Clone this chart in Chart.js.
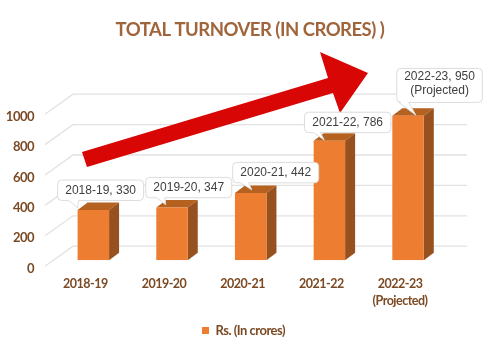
<!DOCTYPE html>
<html>
<head>
<meta charset="utf-8">
<title>Total turnover</title>
<script src="https://cdn.jsdelivr.net/npm/chart.js@4"></script>
<style>
  html, body { margin: 0; padding: 0; background: #fff; }
  #chart { display: block; filter: blur(0.35px); }
</style>
</head>
<body>
<canvas id="chart" width="502" height="353"></canvas>
<script>
const categories = ['2018-19', '2019-20', '2020-21', '2021-22', ['2022-23', '(Projected)']];
const turnover = [330, 347, 442, 786, 950];
const seriesName = 'Rs. (In crores)';
const chartTitle = 'TOTAL TURNOVER (IN CRORES) )';
const yTicks = [0, 200, 400, 600, 800, 1000];

const brown = '#7b4a24';
const depthX = 10;
const depthY = 7.5;

// callout box placement, relative to the top centre of each bar
const callouts = [
  { dx: -35.7, gap: 9.6, w: 86, base: [11, 21], tip: [-15.7, -2] },
  { dx: -26.3, gap: 9.7, w: 86, base: [11, 19], tip: [-6.3, -2.7] },
  { dx: -18, gap: 10.2, w: 86, base: [8, 16], tip: [1, -3.2] },
  { dx: -24.9, gap: 8.1, w: 86.4, base: [9, 16], tip: [-5.2, -0.8] },
  { dx: -11.3, gap: 13.4, w: 85.6, base: [2, 12], tip: [7.7, -0.7] },
];

// the big red trend arrow, canvas pixels
const arrowShape = [[82, 152], [328, 78], [320, 52], [368, 73], [340, 113], [333, 93], [87, 167]];

function polygon(ctx, points, fill) {
  ctx.beginPath();
  points.forEach(([x, y], i) => (i ? ctx.lineTo(x, y) : ctx.moveTo(x, y)));
  ctx.closePath();
  ctx.fillStyle = fill;
  ctx.fill();
}

// the labels in the original are set tighter than Lato
const trackingPlugin = {
  id: 'tracking',
  beforeUpdate(chart) { chart.ctx.letterSpacing = '-0.5px'; },
  beforeDraw(chart) { chart.ctx.letterSpacing = '-0.5px'; },
};

// title and legend sit off the plot centre in the original
const nudgePlugin = {
  id: 'nudge',
  afterLayout(chart) {
    chart.titleBlock.left += 26.3;
    chart.titleBlock.right += 26.3;
    chart.legend.left += 19.8;
    chart.legend.right += 19.8;
  },
};

const wallPlugin = {
  id: 'wall',
  beforeDatasetsDraw(chart) {
    const { ctx } = chart;
    const yScale = chart.scales.y;
    ctx.save();
    ctx.lineWidth = 1.3;
    ctx.strokeStyle = '#e2e2e2';
    yTicks.forEach(value => {
      const backY = yScale.getPixelForValue(value) - 14;
      ctx.beginPath();
      ctx.moveTo(45, backY + 20);
      ctx.lineTo(73, backY);
      ctx.lineTo(467, backY);
      ctx.stroke();
    });
    // top and side faces of the bars
    chart.getDatasetMeta(0).data.forEach(bar => {
      const left = bar.x - bar.width / 2;
      const right = bar.x + bar.width / 2;
      polygon(ctx, [[left, bar.y], [left + depthX, bar.y - depthY], [right + depthX, bar.y - depthY], [right, bar.y]], '#b5611f');
      polygon(ctx, [[right, bar.y], [right + depthX, bar.y - depthY], [right + depthX, bar.base - depthY], [right, bar.base]], '#97511f');
    });
    ctx.restore();
  },
};

const calloutPlugin = {
  id: 'callouts',
  afterDatasetsDraw(chart) {
    const { ctx } = chart;
    ctx.save();
    polygon(ctx, arrowShape, '#d90606');
    ctx.letterSpacing = '0px';

    chart.getDatasetMeta(0).data.forEach((bar, i) => {
      const spec = callouts[i];
      const category = categories[i];
      const lines = Array.isArray(category)
        ? [`${category[0]}, ${turnover[i]}`, category[1]]
        : [`${category}, ${turnover[i]}`];
      const h = lines.length > 1 ? 34 : 20.4;
      const x = bar.x + spec.dx;
      const bottom = bar.y - spec.gap;
      const y = bottom - h;
      const r = 4;

      ctx.beginPath();
      ctx.moveTo(x + r, y);
      ctx.arcTo(x + spec.w, y, x + spec.w, bottom, r);
      ctx.arcTo(x + spec.w, bottom, x, bottom, r);
      ctx.lineTo(x + spec.base[1], bottom);
      ctx.lineTo(bar.x + spec.tip[0], bar.y + spec.tip[1]);
      ctx.lineTo(x + spec.base[0], bottom);
      ctx.arcTo(x, bottom, x, y, r);
      ctx.arcTo(x, y, x + spec.w, y, r);
      ctx.closePath();
      ctx.fillStyle = '#fff';
      ctx.fill();
      ctx.lineWidth = 1;
      ctx.strokeStyle = '#dcdcdc';
      ctx.stroke();

      ctx.fillStyle = '#404040';
      ctx.font = '12px "Liberation Sans"';
      ctx.textAlign = 'center';
      ctx.textBaseline = 'middle';
      lines.forEach((line, n) => {
        const lineY = lines.length > 1 ? y + 8.6 + n * 14 : y + h / 2;
        ctx.fillText(line, x + spec.w / 2, lineY);
      });
    });
    ctx.restore();
  },
};

new Chart(document.getElementById('chart'), {
  type: 'bar',
  data: {
    labels: categories,
    datasets: [{
      label: seriesName,
      data: turnover,
      backgroundColor: '#ed7d31',
      borderWidth: 0,
      barPercentage: 0.4,
      categoryPercentage: 1,
    }],
  },
  options: {
    responsive: false,
    animation: false,
    layout: { padding: { left: 0, right: 54.6, top: 0, bottom: 6 } },
    plugins: {
      title: {
        display: true,
        text: chartTitle,
        color: '#a0653a',
        font: { family: 'Lato', size: 18.5, weight: 'bold' },
        padding: { top: 19, bottom: 67 },
      },
      legend: {
        position: 'bottom',
        labels: {
          color: brown,
          boxWidth: 7,
          boxHeight: 7,
          padding: 10,
          font: { family: 'Lato', size: 13, weight: 'bold' },
        },
      },
      tooltip: { enabled: false },
    },
    scales: {
      x: {
        afterFit: scale => { scale.height = 53.8; },
        grid: { display: false, drawTicks: false },
        border: { display: false },
        ticks: {
          color: brown,
          padding: 16,
          maxRotation: 0,
          autoSkip: false,
          labelOffset: -8,
          font: { family: 'Lato', size: 12.5, weight: 'bold', lineHeight: 1.3 },
        },
      },
      y: {
        min: 0,
        max: 1000,
        afterFit: scale => { scale.width = 54; },
        afterBuildTicks: scale => { scale.ticks = yTicks.map(value => ({ value })); },
        grid: { display: false, drawTicks: false },
        border: { display: false },
        ticks: {
          color: brown,
          padding: 20,
          labelOffset: 8.5,
          callback: value => String(value),
          font: { family: 'Lato', size: 13, weight: 'bold' },
        },
      },
    },
  },
  plugins: [trackingPlugin, nudgePlugin, wallPlugin, calloutPlugin],
});
</script>
</body>
</html>
